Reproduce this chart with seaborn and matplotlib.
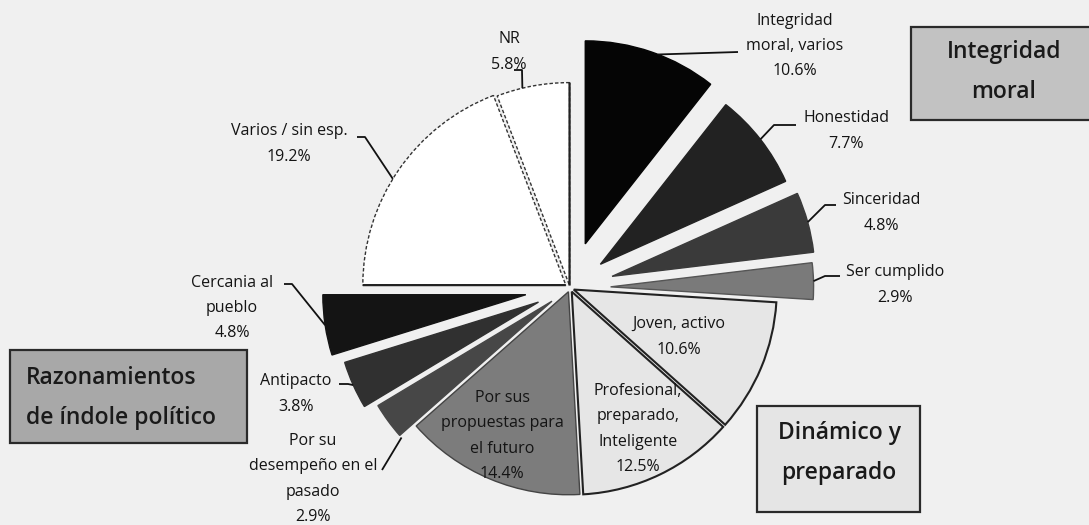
import matplotlib
matplotlib.use("Agg")
import matplotlib.pyplot as plt
import seaborn as sns
import numpy as np
from matplotlib.patches import Rectangle

# ---------------- data ----------------
categories = ["Integridad\nmoral, varios", "Honestidad", "Sinceridad", "Ser cumplido",
              "Joven, activo", "Profesional,\npreparado,\nInteligente",
              "Por sus\npropuestas para\nel futuro", "Por su\ndesempeño en el\npasado",
              "Antipacto", "Cercania al\npueblo", "Varios / sin esp.", "NR"]
values = [10.6, 7.7, 4.8, 2.9, 10.6, 12.5, 14.4, 2.9, 3.8, 4.8, 19.2, 5.8]
group_names = ["Integridad\nmoral", "Razonamientos\nde índole político", "Dinámico y\npreparado"]

# ---------------- style ----------------
colors = ["#050505", "#222222", "#3a3a3a", "#7a7a7a", "#e6e6e6", "#e6e6e6",
          "#7c7c7c", "#474747", "#303030", "#141414", "#ffffff", "#ffffff"]
edges = ["#050505", "#222222", "#3a3a3a", "#555555", "#222222", "#222222",
         "#444444", "#474747", "#303030", "#141414", "#333333", "#333333"]
explode = [0.23, 0.19, 0.215, 0.2, 0.02, 0.02, 0.02, 0.11, 0.17, 0.22, 0.025, 0.012]

sns.set_theme(style="white")
plt.rcParams['font.family'] = ['Open Sans', 'DejaVu Sans']
BG = "#f0f0f0"

W, H = 1089, 525
CX, CY, R = 570, 288, 203


def P(x, y):
    return ((x - CX) / R, (CY - y) / R)


fig = plt.figure(figsize=(W / 100, H / 100), dpi=100, facecolor=BG)
ax = fig.add_axes([0, 0, 1, 1])
ax.set_facecolor(BG)

wedges, _ = ax.pie(values, colors=colors, explode=explode, startangle=90,
                   counterclock=False, radius=1.0,
                   wedgeprops=dict(linewidth=1.0))
for w, ec in zip(wedges, edges):
    w.set_edgecolor(ec)
wedges[4].set_linewidth(1.5)
wedges[5].set_linewidth(1.5)

# white slices: dotted outline, solid outer straight edges
for i, solid_theta in ((10, 'theta2'), (11, 'theta1')):
    w = wedges[i]
    w.set_linestyle((0, (2.5, 1.5)))
    w.set_linewidth(1.0)
    th = np.deg2rad(getattr(w, solid_theta))
    cx, cy = w.center
    ax.plot([cx, cx + w.r * np.cos(th)], [cy, cy + w.r * np.sin(th)],
            color="#222222", lw=1.6, solid_capstyle='butt', zorder=3)

ax.set_xlim(-CX / R, (W - CX) / R)
ax.set_ylim((CY - H) / R, CY / R)
ax.set_aspect('auto')
ax.axis('off')

TXT = "#141414"
# label layout: (text center px, leader elbow px or None, leader end px or None)
layout = [
    ((795, 46), None, (738, 52)),
    ((846, 131), (774, 125), (796, 125)),
    ((881, 213), (825, 205), (836, 205)),
    ((895, 285), (825, 276), (840, 276)),
    ((679, 337), None, None),
    ((638, 429), None, None),
    ((502, 436), None, None),
    ((313, 479), None, (382, 470)),
    ((296, 394), (348, 384), (339, 384)),
    ((232, 308), (292, 284), (284, 284)),
    ((289, 144), (365, 137), (357, 137)),
    ((509, 52), (522, 70), (514, 70)),
]
mid_adjust = [-2, 0, 0, 0, 0, 0, 0, 6, 0, 0, 3, 3]

for i, (cat, val) in enumerate(zip(categories, values)):
    (tx, ty), elbow, end = layout[i]
    ax.text(*P(tx, ty), f"{cat}\n{val:.1f}%", ha='center', va='center',
            fontsize=11.5, color=TXT, linespacing=1.78)
    if end is not None:
        w = wedges[i]
        mid = np.deg2rad((w.theta1 + w.theta2) / 2 + mid_adjust[i])
        ax0 = w.center[0] + w.r * np.cos(mid)
        ay0 = w.center[1] + w.r * np.sin(mid)
        pts = [(ax0, ay0)]
        if elbow is not None:
            pts.append(P(*elbow))
        pts.append(P(*end))
        xs, ys = zip(*pts)
        ax.plot(xs, ys, color="#111111", lw=1.3, solid_capstyle='butt')

# group boxes
boxes = [((911, 27, 1092, 120), "#c2c2c2", (1004, 72), 'center'),
         ((10, 350, 247, 443), "#a8a8a8", (26, 398), 'left'),
         ((757, 406, 920, 512), "#e5e5e5", (839, 453), 'center')]
for (x0, y0, x1, y1), fc, (tx, ty), ha in boxes:
    a = P(x0, y1)
    b = P(x1, y0)
    ax.add_patch(Rectangle(a, b[0] - a[0], b[1] - a[1], facecolor=fc,
                           edgecolor="#2a2a2a", linewidth=1.6, zorder=3))
for (box, fc, (tx, ty), ha), name in zip(boxes, group_names):
    ax.text(*P(tx, ty), name, ha=ha, va='center', fontsize=16.5,
            fontweight='semibold', color="#1a1a1a", linespacing=1.85,
            multialignment=ha, zorder=4)

fig.savefig("out.png", dpi=100, facecolor=BG)
